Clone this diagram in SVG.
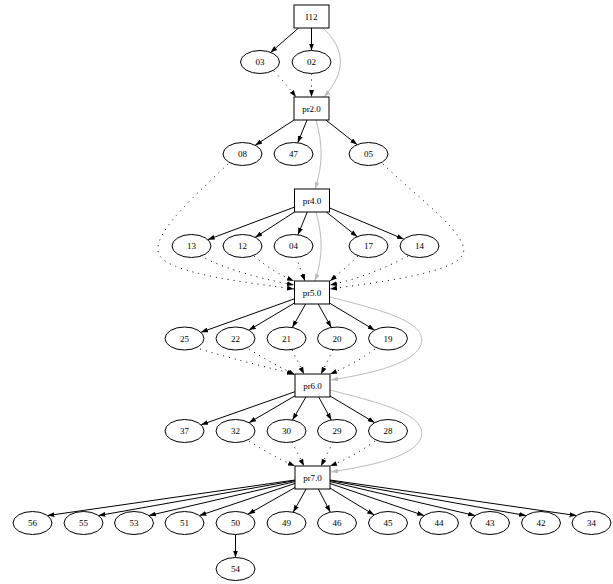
<svg xmlns="http://www.w3.org/2000/svg" width="613" height="584" viewBox="0 0 613 584">
<style>
.bx{fill:#fff;stroke:#000;stroke-width:1}
.el{fill:#fff;stroke:#000;stroke-width:1}
.t{font-family:"Liberation Serif","Times New Roman",serif;font-size:9px;fill:#000;text-anchor:middle}
.e{fill:none;stroke:#000;stroke-width:1;marker-end:url(#ab)}
.d{fill:none;stroke:#000;stroke-width:1;stroke-dasharray:1 5;marker-end:url(#ab)}
.g{fill:none;stroke:#bbb;stroke-width:1;marker-end:url(#ag)}
</style>
<defs>
<marker id="ab" viewBox="0 0 10 7" refX="10" refY="3.5" markerWidth="7" markerHeight="5" orient="auto" markerUnits="userSpaceOnUse"><path d="M0,0L10,3.5L0,7z" fill="#000"/></marker>
<marker id="ag" viewBox="0 0 10 7" refX="10" refY="3.5" markerWidth="7" markerHeight="5" orient="auto" markerUnits="userSpaceOnUse"><path d="M0,0L10,3.5L0,7z" fill="#bbb"/></marker>
</defs>
<rect width="613" height="584" fill="#fff"/>
<g id="connectors">
<!-- gray sequence edges -->
<path class="g" d="M323,28 C346,50 346,72 324,97"/>
<path class="g" d="M316,120 C323,145 323,165 315,189"/>
<path class="g" d="M316,212 C323,237 323,257 315,281"/>
<path class="g" d="M330,297 C380,310 432,322 420,347 C410,366 362,375 331,380"/>
<path class="g" d="M330,390 C380,403 432,415 420,440 C410,459 362,467 331,472"/>
<!-- black tree edges -->
<path class="e" d="M298.5,28 L270.5,52.5"/>
<path class="e" d="M311.5,28 L311.5,50.5"/>
<path class="e" d="M294.1,120 L255.2,145.3"/>
<path class="e" d="M307,120 L297.7,142.8"/>
<path class="e" d="M325.9,120 L357.2,144.7"/>
<path class="e" d="M294.5,207.1 L207.7,239.7"/>
<path class="e" d="M294.5,212 L255.2,237.4"/>
<path class="e" d="M307.3,212 L297.9,234.8"/>
<path class="e" d="M326.3,212 L357.3,236.7"/>
<path class="e" d="M329.5,207.9 L403.9,239.2"/>
<path class="e" d="M294.5,298.8 L200.9,332.3"/>
<path class="e" d="M294.5,303 L248.8,330.2"/>
<path class="e" d="M305.6,304 L292.3,327.5"/>
<path class="e" d="M318.2,304 L331.3,327.5"/>
<path class="e" d="M329.5,303.1 L374.7,330.2"/>
<path class="e" d="M295,391.7 L201,424.8"/>
<path class="e" d="M295,395.8 L249,422.7"/>
<path class="e" d="M305.9,397 L292.5,420"/>
<path class="e" d="M318.7,397 L331.3,420"/>
<path class="e" d="M330,396 L374.7,422.7"/>
<path class="e" d="M295,480 L47.4,515.6"/>
<path class="e" d="M295,480.6 L98.4,515.6"/>
<path class="e" d="M295,481.6 L148.9,515.6"/>
<path class="e" d="M295,483.4 L199.4,515.6"/>
<path class="e" d="M295,487.5 L248,514.2"/>
<path class="e" d="M306.1,489 L293.2,512.2"/>
<path class="e" d="M318.4,489 L330.3,512.2"/>
<path class="e" d="M330,488.1 L374.2,514.9"/>
<path class="e" d="M330,483.5 L424.1,515.6"/>
<path class="e" d="M330,481.6 L475.1,515.6"/>
<path class="e" d="M330,480.6 L526.1,515.6"/>
<path class="e" d="M330,480 L576.6,515.6"/>
<path class="e" d="M235.5,534.5 L235.5,557.5"/>
<!-- dotted edges -->
<path class="d" d="M274,71 Q286,84 296,97"/>
<path class="d" d="M311.5,73.5 L311.5,97"/>
<path class="d" d="M228,164 C190,200 148,238 160,256 C172,274 250,283 294,289"/>
<path class="d" d="M200,256 C232,272 268,280 294,285"/>
<path class="d" d="M254,256 C268,268 282,276 294,281"/>
<path class="d" d="M296,257 L305,281"/>
<path class="d" d="M358,256 C346,268 336,276 330,281"/>
<path class="d" d="M408,256 C382,270 354,280 330,285"/>
<path class="d" d="M383,164 C420,200 474,238 462,256 C450,274 372,283 330,289"/>
<path class="d" d="M200,349 C240,361 270,368 294,374"/>
<path class="d" d="M249,349 C266,360 282,368 295,375"/>
<path class="d" d="M292,350 L304,374"/>
<path class="d" d="M333,350 L321,374"/>
<path class="d" d="M375,349 C360,360 345,368 330,374"/>
<path class="d" d="M249,441 C266,452 281,460 295,466"/>
<path class="d" d="M292,442 L304,466"/>
<path class="d" d="M333,442 L321,466"/>
<path class="d" d="M375,441 C360,452 345,460 330,466"/>
</g>
<g id="n-I12"><rect class="bx" x="294" y="5" width="35" height="23"/><text class="t" x="311.5" y="19.5">I12</text></g>
<g id="n-pr2"><rect class="bx" x="294" y="97" width="35" height="23"/><text class="t" x="311.5" y="111.5">pr2.0</text></g>
<g id="n-pr4"><rect class="bx" x="294.5" y="189" width="35" height="23"/><text class="t" x="312" y="203.5">pr4.0</text></g>
<g id="n-pr5"><rect class="bx" x="294.5" y="281" width="35" height="23"/><text class="t" x="312" y="295.5">pr5.0</text></g>
<g id="n-pr6"><rect class="bx" x="295" y="374" width="35" height="23"/><text class="t" x="312.5" y="388.5">pr6.0</text></g>
<g id="n-pr7"><rect class="bx" x="295" y="466" width="35" height="23"/><text class="t" x="312.5" y="480.5">pr7.0</text></g>
<g id="n-03"><ellipse class="el" cx="260" cy="62" rx="19.5" ry="11.5"/><text class="t" x="260" y="65">03</text></g>
<g id="n-02"><ellipse class="el" cx="311.5" cy="62" rx="19.5" ry="11.5"/><text class="t" x="311.5" y="65">02</text></g>
<g id="n-08"><ellipse class="el" cx="242.5" cy="154" rx="19.5" ry="11.5"/><text class="t" x="242.5" y="157">08</text></g>
<g id="n-47"><ellipse class="el" cx="293.5" cy="154" rx="19.5" ry="11.5"/><text class="t" x="293.5" y="157">47</text></g>
<g id="n-05"><ellipse class="el" cx="368.5" cy="154" rx="19.5" ry="11.5"/><text class="t" x="368.5" y="157">05</text></g>
<g id="n-13"><ellipse class="el" cx="191.5" cy="246" rx="19.5" ry="11.5"/><text class="t" x="191.5" y="249">13</text></g>
<g id="n-12"><ellipse class="el" cx="242.5" cy="246" rx="19.5" ry="11.5"/><text class="t" x="242.5" y="249">12</text></g>
<g id="n-04"><ellipse class="el" cx="293.5" cy="246" rx="19.5" ry="11.5"/><text class="t" x="293.5" y="249">04</text></g>
<g id="n-17"><ellipse class="el" cx="368.5" cy="246" rx="19.5" ry="11.5"/><text class="t" x="368.5" y="249">17</text></g>
<g id="n-14"><ellipse class="el" cx="419.5" cy="246" rx="19.5" ry="11.5"/><text class="t" x="419.5" y="249">14</text></g>
<g id="n-25"><ellipse class="el" cx="184.5" cy="338.5" rx="19.5" ry="11.5"/><text class="t" x="184.5" y="341.5">25</text></g>
<g id="n-22"><ellipse class="el" cx="235.5" cy="338.5" rx="19.5" ry="11.5"/><text class="t" x="235.5" y="341.5">22</text></g>
<g id="n-21"><ellipse class="el" cx="286.5" cy="338.5" rx="19.5" ry="11.5"/><text class="t" x="286.5" y="341.5">21</text></g>
<g id="n-20"><ellipse class="el" cx="337" cy="338.5" rx="19.5" ry="11.5"/><text class="t" x="337" y="341.5">20</text></g>
<g id="n-19"><ellipse class="el" cx="388" cy="338.5" rx="19.5" ry="11.5"/><text class="t" x="388" y="341.5">19</text></g>
<g id="n-37"><ellipse class="el" cx="184.5" cy="431" rx="19.5" ry="11.5"/><text class="t" x="184.5" y="434">37</text></g>
<g id="n-32"><ellipse class="el" cx="235.5" cy="431" rx="19.5" ry="11.5"/><text class="t" x="235.5" y="434">32</text></g>
<g id="n-30"><ellipse class="el" cx="286.5" cy="431" rx="19.5" ry="11.5"/><text class="t" x="286.5" y="434">30</text></g>
<g id="n-29"><ellipse class="el" cx="337" cy="431" rx="19.5" ry="11.5"/><text class="t" x="337" y="434">29</text></g>
<g id="n-28"><ellipse class="el" cx="388" cy="431" rx="19.5" ry="11.5"/><text class="t" x="388" y="434">28</text></g>
<g id="n-56"><ellipse class="el" cx="32.5" cy="523" rx="19.5" ry="11.5"/><text class="t" x="32.5" y="526">56</text></g>
<g id="n-55"><ellipse class="el" cx="83.5" cy="523" rx="19.5" ry="11.5"/><text class="t" x="83.5" y="526">55</text></g>
<g id="n-53"><ellipse class="el" cx="134" cy="523" rx="19.5" ry="11.5"/><text class="t" x="134" y="526">53</text></g>
<g id="n-51"><ellipse class="el" cx="184.5" cy="523" rx="19.5" ry="11.5"/><text class="t" x="184.5" y="526">51</text></g>
<g id="n-50"><ellipse class="el" cx="235.5" cy="523" rx="19.5" ry="11.5"/><text class="t" x="235.5" y="526">50</text></g>
<g id="n-49"><ellipse class="el" cx="286.5" cy="523" rx="19.5" ry="11.5"/><text class="t" x="286.5" y="526">49</text></g>
<g id="n-46"><ellipse class="el" cx="337" cy="523" rx="19.5" ry="11.5"/><text class="t" x="337" y="526">46</text></g>
<g id="n-45"><ellipse class="el" cx="388" cy="523" rx="19.5" ry="11.5"/><text class="t" x="388" y="526">45</text></g>
<g id="n-44"><ellipse class="el" cx="439" cy="523" rx="19.5" ry="11.5"/><text class="t" x="439" y="526">44</text></g>
<g id="n-43"><ellipse class="el" cx="490" cy="523" rx="19.5" ry="11.5"/><text class="t" x="490" y="526">43</text></g>
<g id="n-42"><ellipse class="el" cx="541" cy="523" rx="19.5" ry="11.5"/><text class="t" x="541" y="526">42</text></g>
<g id="n-34"><ellipse class="el" cx="591.5" cy="523" rx="19.5" ry="11.5"/><text class="t" x="591.5" y="526">34</text></g>
<g id="n-54"><ellipse class="el" cx="235.5" cy="569" rx="19.5" ry="11.5"/><text class="t" x="235.5" y="572">54</text></g>
</svg>
